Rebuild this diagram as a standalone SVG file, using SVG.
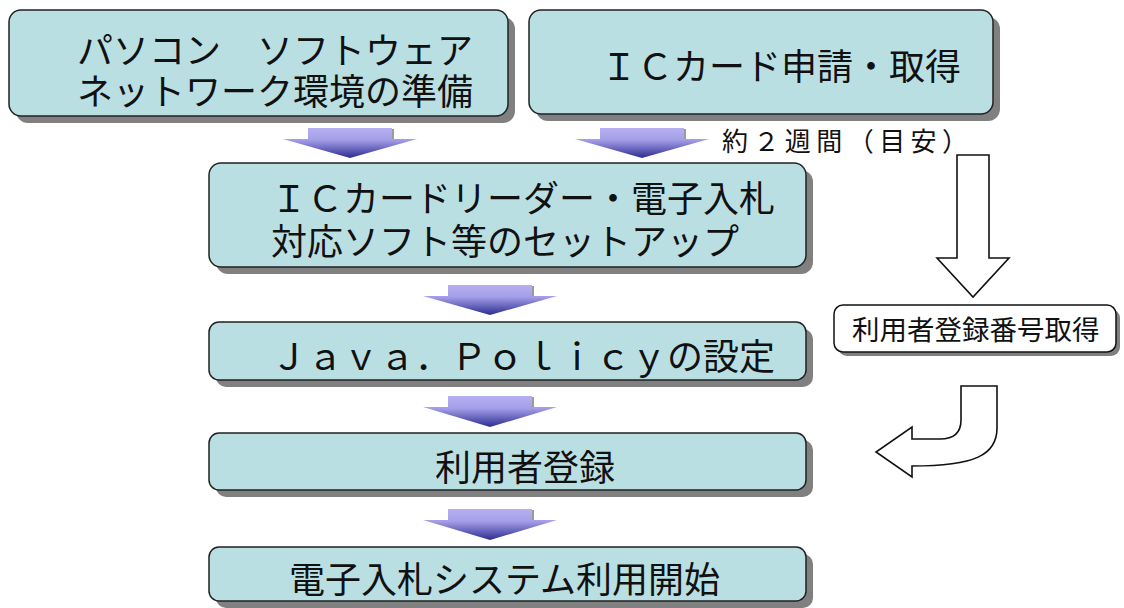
<svg xmlns="http://www.w3.org/2000/svg" width="1124" height="608" viewBox="0 0 1124 608">
<defs>
<linearGradient id="ag" x1="0" y1="0" x2="0" y2="1">
<stop offset="0" stop-color="#b6b0f2"/>
<stop offset="0.4" stop-color="#a49ee8"/>
<stop offset="1" stop-color="#2c2c90"/>
</linearGradient>
<style>
.sh{fill:#808080}
.bx{fill:#badfe3;stroke:#222;stroke-width:1.5}
.wb{fill:#fff;stroke:#111;stroke-width:1.5}
.t{font-family:"Liberation Sans","Noto Sans CJK JP","Noto Sans CJK SC",sans-serif;font-size:36px;fill:#111}
.s{font-family:"Noto Sans CJK JP","Noto Sans CJK SC",sans-serif;fill:#111}
.ar{fill:url(#ag)}
.ash{fill:#9a9a9a}
.wa{fill:#fff;stroke:#111;stroke-width:1.6;stroke-linejoin:miter}
</style>
</defs>
<rect width="1124" height="608" fill="#fff"/>

<g id="n1">
<rect class="sh" x="16" y="17" width="499" height="106" rx="12"/>
<rect class="bx" x="9" y="10" width="499" height="106" rx="12"/>
<text class="t"><tspan x="77" y="64">パソコン　ソフトウェア</tspan><tspan x="77" y="105">ネットワーク環境の準備</tspan></text>
</g>

<g id="n2">
<rect class="sh" x="536" y="17" width="464" height="104" rx="12"/>
<rect class="bx" x="529" y="10" width="464" height="104" rx="12"/>
<text class="t" x="601" y="80">ＩＣカード申請・取得</text>
</g>

<g id="n3">
<rect class="sh" x="216" y="170" width="597" height="104" rx="12"/>
<rect class="bx" x="209" y="163" width="597" height="104" rx="12"/>
<text class="t"><tspan x="271" y="212">ＩＣカードリーダー・電子入札</tspan><tspan x="271" y="255">対応ソフト等のセットアップ</tspan></text>
</g>

<g id="n4">
<rect class="sh" x="216" y="329" width="597" height="58" rx="10"/>
<rect class="bx" x="209" y="322" width="597" height="58" rx="10"/>
<text class="t" x="271" y="370">Ｊａｖａ．Ｐｏｌｉｃｙの設定</text>
</g>

<g id="n5">
<rect class="sh" x="216" y="440" width="597" height="57" rx="10"/>
<rect class="bx" x="209" y="433" width="597" height="57" rx="10"/>
<text class="t" x="435" y="481">利用者登録</text>
</g>

<g id="n6">
<rect class="sh" x="216" y="554" width="597" height="54" rx="10"/>
<rect class="bx" x="209" y="547" width="597" height="54" rx="10"/>
<text class="t" x="289" y="593">電子入札システム利用開始</text>
</g>

<g id="n7">
<rect class="sh" x="838" y="309" width="282" height="47" rx="9"/>
<rect class="wb" x="834" y="305" width="282" height="47" rx="9"/>
<text class="s" x="852" y="340" font-size="27.5">利用者登録番号取得</text>
</g>

<g id="label">
<text class="s" x="722" y="151" font-size="26" textLength="246">約２週間（目安）</text>
</g>

<g id="connectors">
<g transform="translate(350,128)">
<rect class="ash" x="-40" y="1" width="84" height="11"/>
<polygon class="ar" points="-42,0 42,0 42,11 67,11 0,30 -67,11 -42,11"/>
</g>
<g transform="translate(642,128)">
<rect class="ash" x="-40" y="1" width="84" height="11"/>
<polygon class="ar" points="-42,0 42,0 42,11 67,11 0,30 -67,11 -42,11"/>
</g>
<g transform="translate(490,285)">
<rect class="ash" x="-40" y="1" width="84" height="11"/>
<polygon class="ar" points="-42,0 42,0 42,11 67,11 0,30 -67,11 -42,11"/>
</g>
<g transform="translate(490,396)">
<rect class="ash" x="-40" y="1" width="84" height="11"/>
<polygon class="ar" points="-42,0 42,0 42,11 67,11 0,31 -67,11 -42,11"/>
</g>
<g transform="translate(490,509)">
<rect class="ash" x="-40" y="1" width="84" height="11"/>
<polygon class="ar" points="-42,0 42,0 42,11 67,11 0,31 -67,11 -42,11"/>
</g>
<polygon class="wa" points="957,155 989,155 989,258 1009,258 973,297 937,258 957,258"/>
<path class="wa" d="M961 386 L997 386 L997 428 C997 455 975 466 912 466 L912 477 L876 452 L912 427 L912 439 L940 439 Q961 439 961 420 Z"/>
</g>
</svg>
